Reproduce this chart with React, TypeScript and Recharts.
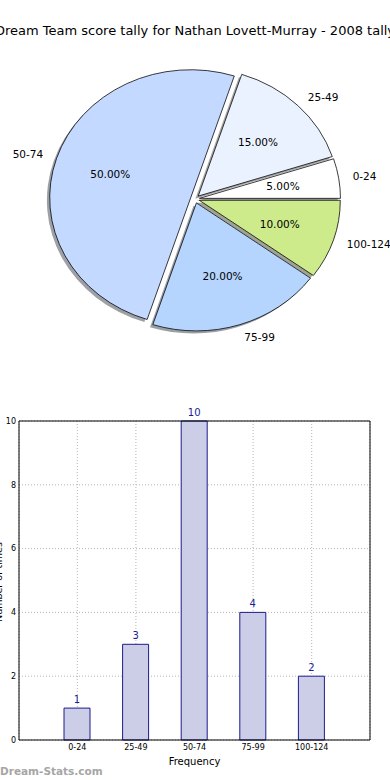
import { PieChart, Pie, Cell, BarChart, Bar, XAxis, YAxis, CartesianGrid, LabelList } from 'recharts';

const categories = ['0-24', '25-49', '50-74', '75-99', '100-124'];
const counts = [1, 3, 10, 4, 2];
const sliceColors = ['#ffffff', '#ebf2ff', '#c3d9ff', '#b5d5ff', '#cdeb8b'];
const yTicks = [0, 2, 4, 6, 8, 10];

const FONT = '"DejaVu Sans", sans-serif';

// pie geometry (matplotlib draws it squashed because the axes aren't equal)
const PCX = 195;
const PCY = 199;
const RX = 141;
const RY = 128;
const EXPLODE = 0.032;
const SHADOW_X = -2.8;
const SHADOW_Y = 2.6;

const pieData = categories.map((name, i) => ({ name, value: counts[i] }));
const barData = categories.map((name, i) => ({ name, count: counts[i] }));

const total = counts.reduce((a, b) => a + b, 0);
const midAngles = counts.map((v, i) => {
  const before = counts.slice(0, i).reduce((a, b) => a + b, 0);
  return ((before + v / 2) / total) * 360;
});

function shadowColor(hex: string) {
  const n = parseInt(hex.slice(1), 16);
  const r = Math.round(((n >> 16) & 255) * 0.3);
  const g = Math.round(((n >> 8) & 255) * 0.3);
  const b = Math.round((n & 255) * 0.3);
  return `rgb(${r},${g},${b})`;
}

function wedgeTransform(i: number, sx = 0, sy = 0) {
  const a = (midAngles[i] * Math.PI) / 180;
  const dx = EXPLODE * RX * Math.cos(a) + sx;
  const dy = -EXPLODE * RY * Math.sin(a) + sy;
  return `translate(${PCX + dx} ${PCY + dy}) scale(1 ${RY / RX}) translate(${-PCX} ${-PCY})`;
}

const renderPieLabel = (props: any) => {
  const { midAngle, percent, name, index } = props;
  const a = (midAngle * Math.PI) / 180;
  const ox = PCX + EXPLODE * RX * Math.cos(a);
  const oy = PCY - EXPLODE * RY * Math.sin(a);
  const lx = ox + 1.1 * RX * Math.cos(a);
  const ly = oy - 1.1 * RY * Math.sin(a);
  const px = ox + 0.6 * RX * Math.cos(a);
  const py = oy - 0.6 * RY * Math.sin(a);
  return (
    <g key={`lbl-${index}`}>
      <text x={lx} y={ly} textAnchor={Math.cos(a) > 0 ? 'start' : 'end'} dominantBaseline="central"
        fontSize={10.5} fontFamily={FONT} fill="#000">
        {name}
      </text>
      <text x={px} y={py} textAnchor="middle" dominantBaseline="central" fontSize={10.5} fontFamily={FONT} fill="#000">
        {(percent * 100).toFixed(2)}%
      </text>
    </g>
  );
};

export default function App() {
  return (
    <div style={{ position: 'relative', width: 390, height: 780, background: '#fff', fontFamily: FONT }}>
      <style>{`body{margin:0}`}</style>

      <div style={{ position: 'absolute', left: 0, top: 0 }}>
        <PieChart width={390} height={390} margin={{ top: 0, right: 0, bottom: 0, left: 0 }}>
          <Pie data={pieData} dataKey="value" nameKey="name" cx={PCX} cy={PCY} outerRadius={RX}
            startAngle={0} endAngle={360} stroke="none" isAnimationActive={false} label={false}>
            {pieData.map((d, i) => (
              <Cell key={`sh-${d.name}`} fill={shadowColor(sliceColors[i])} fillOpacity={0.5}
                transform={wedgeTransform(i, SHADOW_X, SHADOW_Y)} />
            ))}
          </Pie>
          <Pie data={pieData} dataKey="value" nameKey="name" cx={PCX} cy={PCY} outerRadius={RX}
            startAngle={0} endAngle={360} stroke="#000" strokeWidth={0.8} isAnimationActive={false}
            label={renderPieLabel} labelLine={false}>
            {pieData.map((d, i) => (
              <Cell key={`w-${d.name}`} fill={sliceColors[i]} stroke="#000" strokeWidth={0.8}
                transform={wedgeTransform(i)} />
            ))}
          </Pie>
        </PieChart>
      </div>

      <div style={{ position: 'absolute', left: 0, top: 400 }}>
        <BarChart width={390} height={380} data={barData} margin={{ top: 20, right: 19, left: 0, bottom: 0 }}>
          <XAxis dataKey="name" interval={0} padding={{ left: 29, right: 29 }} height={40} tickSize={2}
            tickLine={false} axisLine={{ stroke: '#000' }}
            tick={{ fontSize: 8, fill: '#000', fontFamily: FONT }}
            label={{ value: 'Frequency', position: 'insideBottom', offset: 15, fontSize: 10, fill: '#000', fontFamily: FONT }} />
          <YAxis domain={[0, 10]} ticks={yTicks} width={19} tickSize={1} tickLine={false}
            axisLine={{ stroke: '#000' }} tick={{ fontSize: 8, fill: '#000', fontFamily: FONT }} />
          <XAxis xAxisId="top" orientation="top" dataKey="name" height={1} tick={false} tickLine={false}
            axisLine={{ stroke: '#000' }} padding={{ left: 29, right: 29 }} />
          <YAxis yAxisId="right" orientation="right" domain={[0, 10]} width={1} tick={false} tickLine={false}
            axisLine={{ stroke: '#000' }} />
          <Bar dataKey="count" barSize={26} fill="#cccde6" stroke="#1c1c8a" strokeWidth={1} isAnimationActive={false}>
            <LabelList dataKey="count" position="top" offset={5} fill="#1c1c9a" fontSize={10} fontFamily={FONT} />
          </Bar>
          <CartesianGrid stroke="#b5b5b5" strokeDasharray="1 2" />
        </BarChart>
      </div>

      <svg width={390} height={780} style={{ position: 'absolute', left: 0, top: 0, pointerEvents: 'none' }}>
        <text x={195} y={35} textAnchor="middle" fontSize={13} fontFamily={FONT} fill="#000">
          Dream Team score tally for Nathan Lovett-Murray - 2008 tally
        </text>
        <text x={2} y={582} transform="rotate(-90 2 582)" textAnchor="middle" fontSize={9.5} fontFamily={FONT} fill="#000">
          Number of times
        </text>
        <text x={0} y={775} fontSize={10.5} fontWeight="bold" fontFamily={FONT} fill="#a6a6a6">
          Dream-Stats.com
        </text>
      </svg>
    </div>
  );
}
